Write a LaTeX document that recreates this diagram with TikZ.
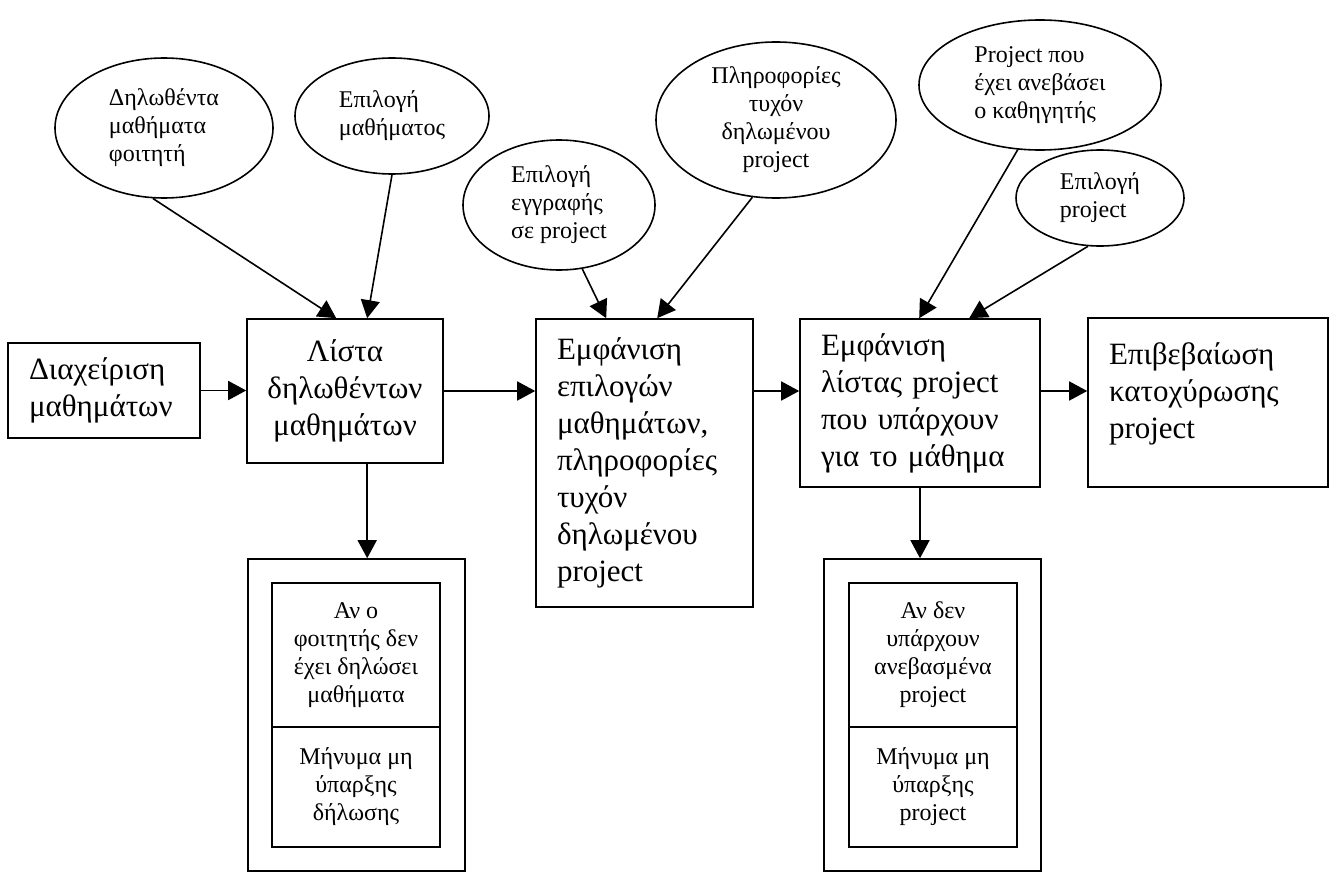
\documentclass[tikz,border=0pt]{standalone}
\usepackage{fontspec}
\setmainfont{Liberation Serif}
\usepackage{tikz}
\usetikzlibrary{shapes,arrows,arrows.meta,positioning,calc}

\tikzset{
  bigtext/.style={font=\fontsize{31}{37}\selectfont},
  smalltext/.style={font=\fontsize{24}{28}\selectfont},
  stepbox/.style={draw, line width=1.6pt, rectangle, inner sep=0pt, bigtext},
  inbox/.style={draw, line width=1.6pt, rectangle, inner sep=0pt, smalltext, align=center},
  bubble/.style={draw, line width=1.6pt, ellipse, inner sep=0pt, smalltext, align=left},
  arr/.style={line width=1.6pt, -{Triangle[length=18pt,width=19pt]}},
}

\begin{document}
\begin{tikzpicture}[x=1pt, y=-1pt]
            \useasboundingbox (0,0) rectangle (1336,872);

            % Main row
            \node[stepbox, minimum width=192pt, minimum height=95pt, text width=150pt, align=left] (manage) at (104,390.5) {Διαχείριση\\μαθημάτων};
            \node[stepbox, minimum width=196pt, minimum height=144pt, align=center] (lista) at (345,391) {Λίστα\\δηλωθέντων\\μαθημάτων};
            \node[stepbox, minimum width=217pt, minimum height=288pt, text width=175pt, align=left] (opts) at (644.5,463) {Εμφάνιση\\επιλογών\\μαθημάτων,\\πληροφορίες\\τυχόν\\δηλωμένου\\project};
            \node[stepbox, minimum width=240pt, minimum height=168pt, text width=198pt, align=left] (listproj) at (920,403) {Εμφάνιση\\λίστας project\\που υπάρχουν\\για το μάθημα};
            \node[stepbox, minimum width=240pt, minimum height=169pt, text width=198pt, align=left] (confirm) at (1208,402.5) {Επιβεβαίωση\\κατοχύρωσης\\project\\[-13pt]\mbox{}};

            % Message boxes
            \node[draw, line width=1.6pt, minimum width=217pt, minimum height=312pt] (outer1) at (356.5,715) {};
            \node[inbox, minimum width=168pt, minimum height=144pt] (cond1) at (356,655) {Αν ο\\φοιτητής δεν\\έχει δηλώσει\\μαθήματα};
            \node[inbox, minimum width=168pt, minimum height=120pt] (msg1) at (356,787) {Μήνυμα μη\\ύπαρξης\\δήλωσης};
            \node[draw, line width=1.6pt, minimum width=217pt, minimum height=312pt] (outer2) at (932.5,715) {};
            \node[inbox, minimum width=168pt, minimum height=144pt] (cond2) at (933,655) {Αν δεν\\υπάρχουν\\ανεβασμένα\\project};
            \node[inbox, minimum width=168pt, minimum height=120pt] (msg2) at (933,787) {Μήνυμα μη\\ύπαρξης\\project};

            % Inputs
            \node[bubble, minimum width=218pt, minimum height=140pt] (e1) at (164,128) {Δηλωθέντα\\μαθήματα\\φοιτητή};
            \node[bubble, minimum width=194pt, minimum height=116pt] (e2) at (392,116) {Επιλογή\\μαθήματος};
            \node[bubble, minimum width=192pt, minimum height=130pt] (e3) at (559,205) {Επιλογή\\εγγραφής\\σε project};
            \node[bubble, minimum width=240pt, minimum height=156pt, align=center] (e4) at (776,120) {Πληροφορίες\\τυχόν\\δηλωμένου\\project};
            \node[bubble, minimum width=242pt, minimum height=130pt] (e5) at (1040,85) {Project που\\έχει ανεβάσει\\ο καθηγητής};
            \node[bubble, minimum width=168pt, minimum height=96pt] (e6) at (1100,198) {Επιλογή\\project};

            % Flow
            \draw[arr] (manage.east) -- (manage.east -| lista.west);
            \draw[arr] (lista.east) -- (lista.east -| opts.west);
            \draw[arr] (lista.east -| opts.east) -- (lista.east -| listproj.west);
            \draw[arr] (lista.east -| listproj.east) -- (lista.east -| confirm.west);
            \coordinate (ldown) at ($(lista.south west)+(121,0)$);
            \draw[arr] (ldown) -- (ldown |- outer1.north);
            \draw[arr] (listproj.south) -- (listproj.south |- outer2.north);

            % Inputs to steps
            \draw[arr] (e1.-99) -- ($(lista.north west)+(90,0)$);
            \draw[arr] (e2.south) -- ($(lista.north west)+(121,0)$);
            \draw[arr] (e3.-70) -- ($(opts.north west)+(71,0)$);
            \draw[arr] (e4.-107) -- ($(opts.north west)+(122,0)$);
            \draw[arr] (e5.-109) -- ($(listproj.north west)+(120,0)$);
            \draw[arr] (e6.-104) -- ($(listproj.north west)+(170,0)$);
        \end{tikzpicture}
\end{document}
